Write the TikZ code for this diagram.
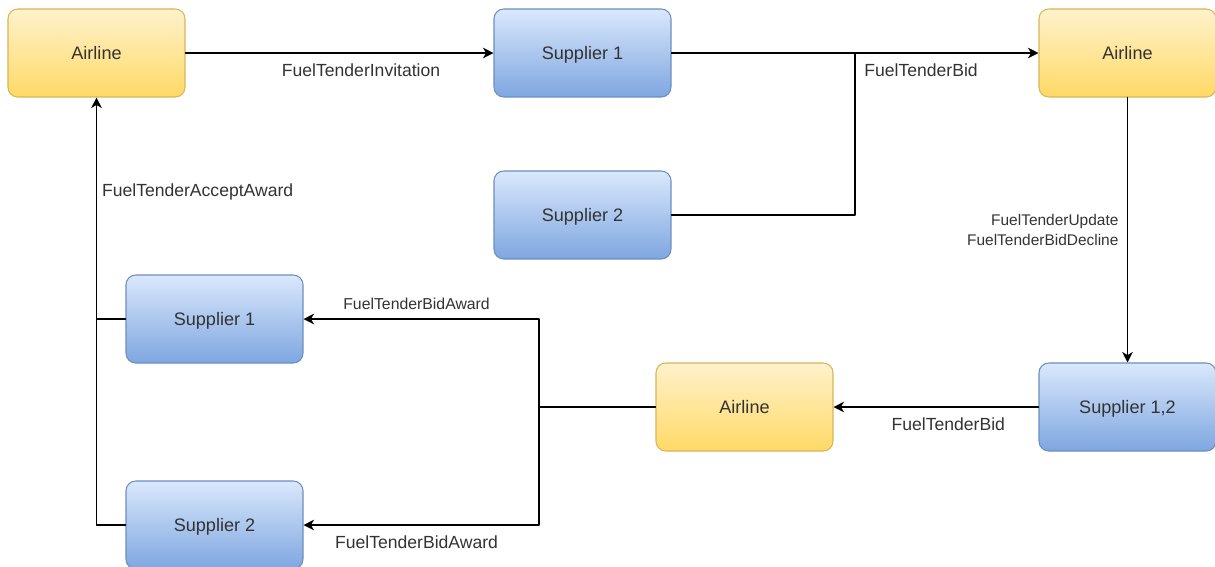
\documentclass[tikz,border=0pt]{standalone}
\usepackage{fontspec}
\setmainfont{Liberation Sans}
\usetikzlibrary{arrows.meta,positioning}

\definecolor{airtop}{HTML}{FFF2CC}
\definecolor{airbot}{HTML}{FFD966}
\definecolor{airline}{HTML}{D6B656}
\definecolor{suptop}{HTML}{DAE8FC}
\definecolor{supbot}{HTML}{7EA6E0}
\definecolor{supline}{HTML}{6C8EBF}
\definecolor{txt}{HTML}{333333}

\tikzset{
  box/.style={rounded corners=5.5pt, minimum width=3.54cm, minimum height=1.76cm,
    font=\fontsize{10.3}{12}\selectfont, text=txt, line width=0.6pt,
    text height=1.45ex, text depth=0.05ex},
  airbox/.style={box, draw=airline, top color=airtop, bottom color=airbot},
  supbox/.style={box, draw=supline, top color=suptop, bottom color=supbot},
  lbl/.style={font=\fontsize{10}{12}\selectfont, text=txt, inner sep=3.3pt},
  smalllbl/.style={font=\fontsize{9}{11}\selectfont, text=txt, inner sep=3.3pt}
}

\begin{document}
\begin{tikzpicture}[x=0.02cm, y=-0.02cm, line cap=round, line join=round,
  >={Stealth[length=6pt,width=6pt,inset=1.8pt]}, line width=0.75pt]

\useasboundingbox (0,0) rectangle (1215,566);

% top row
\node[airbox] (air1) at (96.5,53) {Airline};
\node[supbox] (sup1) at (582.5,53) {Supplier 1};
\node[airbox] (air2) at (1127.5,53) {Airline};
\node[supbox] (sup2) at (582.5,215) {Supplier 2};

% bottom
\node[supbox] (sup1b) at (214.5,319) {Supplier 1};
\node[supbox] (sup2b) at (214.5,525) {Supplier 2};
\node[airbox] (air3) at (744.5,407) {Airline};
\node[supbox] (sup12) at (1127.5,407) {Supplier 1,2};

\coordinate (j1) at (855,53);
\coordinate (j2) at (539,407);

\draw[->] (air1) -- node[lbl, below=2.5pt, pos=0.57] {FuelTenderInvitation} (sup1);

\draw[->] (sup1) -- (j1) -- node[lbl, below=2.5pt, pos=0.36] {FuelTenderBid} (air2);
\draw (sup2) -| (j1);

\draw[->] (air2) -- node[smalllbl, left=1.5pt, align=right, font=\fontsize{8.8}{11}\selectfont]
  {FuelTenderUpdate\\FuelTenderBidDecline} (sup12);

\draw[->] (sup12) -- node[lbl, below=2.5pt, pos=0.44] {FuelTenderBid} (air3);

\draw (air3) -- (j2);
\draw[->] (j2) |- node[smalllbl, above=1.5pt, pos=0.76] {FuelTenderBidAward} (sup1b);
\draw[->] (j2) |- node[lbl, below=2.5pt, pos=0.76] {FuelTenderBidAward} (sup2b);

\draw[->] (sup2b) -| node[lbl, right=-0.5pt, pos=0.89] {FuelTenderAcceptAward} (air1);
\draw (sup1b) -- (sup1b -| air1);

\end{tikzpicture}
\end{document}
